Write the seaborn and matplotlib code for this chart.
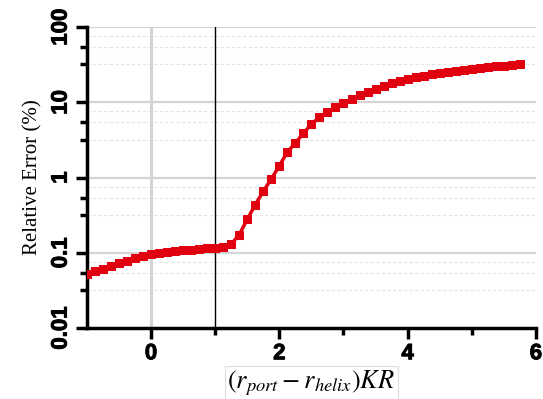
import seaborn as sns
import matplotlib.pyplot as plt
import matplotlib.patheffects as pe
import pandas as pd
from matplotlib.ticker import LogLocator, FixedLocator, NullFormatter

# (r_port - r_helix) KR values
x_vals = [-1.0, -0.875, -0.75, -0.625, -0.5, -0.375, -0.25, -0.125,
          0.0, 0.125, 0.25, 0.375, 0.5, 0.625, 0.75, 0.875,
          1.0, 1.125, 1.25, 1.375, 1.5, 1.625, 1.75, 1.875,
          2.0, 2.125, 2.25, 2.375, 2.5, 2.625, 2.75, 2.875,
          3.0, 3.125, 3.25, 3.375, 3.5, 3.625, 3.75, 3.875,
          4.0, 4.125, 4.25, 4.375, 4.5, 4.625, 4.75, 4.875,
          5.0, 5.125, 5.25, 5.375, 5.5, 5.625, 5.75]

# relative error in percent
err_vals = [0.053, 0.0575, 0.061, 0.066, 0.072, 0.078, 0.084, 0.090,
            0.096, 0.100, 0.103, 0.106, 0.108, 0.110, 0.113, 0.115,
            0.117, 0.120, 0.130, 0.174, 0.278, 0.437, 0.657, 0.96,
            1.43, 2.19, 2.87, 3.9, 5.1, 6.37, 7.5, 8.65,
            9.7, 11.1, 12.5, 13.8, 15.2, 16.6, 17.9, 19.0,
            20.5, 21.5, 22.6, 23.6, 24.8, 25.6, 26.4, 27.2,
            28.0, 28.7, 29.6, 30.2, 30.8, 31.4, 32.1]

x_ticks = [0, 2, 4, 6]
y_ticks = [0.01, 0.1, 1, 10, 100]
y_tick_labels = ['0.01', '0.1', '1', '10', '100']

df = pd.DataFrame({'x': x_vals, 'err': err_vals})

sns.set_style('white')
plt.rcParams['mathtext.fontset'] = 'stix'
plt.rcParams['text.color'] = 'black'
plt.rcParams['axes.labelcolor'] = 'black'
plt.rcParams['xtick.color'] = 'black'
plt.rcParams['ytick.color'] = 'black'

fig = plt.figure(figsize=(5.43, 3.99), dpi=100)
ax = fig.add_axes([0.160, 0.178, 0.827, 0.754])

ax.set_yscale('log')
ax.set_xlim(-1, 6)
ax.set_ylim(0.01, 100)

# grid lines
for v in [0.1, 1, 10, 100]:
    ax.axhline(v, color='#d4d4d4', lw=1.6, zorder=0)
for dec in [0.01, 0.1, 1, 10]:
    for m in [3.2, 5.4, 7.6]:
        ax.axhline(dec * m, color='#e4e4e4', lw=0.8, ls=(0, (3, 2)), zorder=0)
ax.axvline(0, color='#d4d4d4', lw=2.2, zorder=0)
ax.axvline(1, color='black', lw=1.0, zorder=1)

sns.lineplot(data=df, x='x', y='err', ax=ax, color='#e00010', lw=2.5,
             marker='s', markersize=5.5, markeredgecolor='#e00010', zorder=3)

for side in ['top', 'right']:
    ax.spines[side].set_visible(False)
for side in ['left', 'bottom']:
    ax.spines[side].set_linewidth(2.5)
    ax.spines[side].set_color('black')

heavy = [pe.withStroke(linewidth=0.7, foreground='black')]
ax.set_xticks(x_ticks)
ax.set_xticklabels([str(t) for t in x_ticks], fontsize=16, fontweight='bold',
                   family='Liberation Sans', color='black', path_effects=heavy)
ax.xaxis.set_minor_locator(FixedLocator([1, 3, 5]))
ax.set_yticks(y_ticks)
ax.set_yticklabels(y_tick_labels, fontsize=16, fontweight='bold',
                   family='Liberation Sans', rotation=90, va='center',
                   color='black', path_effects=heavy)
ax.yaxis.set_minor_locator(LogLocator(base=10, subs=[3.2, 5.4]))
ax.yaxis.set_minor_formatter(NullFormatter())

ax.tick_params(axis='both', which='major', direction='out', length=8,
               width=2.5, color='black', left=True, bottom=True, pad=3)
ax.tick_params(axis='both', which='minor', direction='out', length=5,
               width=2.5, color='black', left=True, bottom=True)

ax.set_xlabel(r'$(r_{port} - r_{helix})KR$', fontsize=19, labelpad=3,
              color='black',
              bbox=dict(facecolor='white', edgecolor='#dddddd', lw=0.8, pad=1.5))
ax.set_ylabel('Relative Error (%)', fontsize=15, family='Liberation Serif',
              color='black', labelpad=6)

fig.savefig('out.png', dpi=100)
